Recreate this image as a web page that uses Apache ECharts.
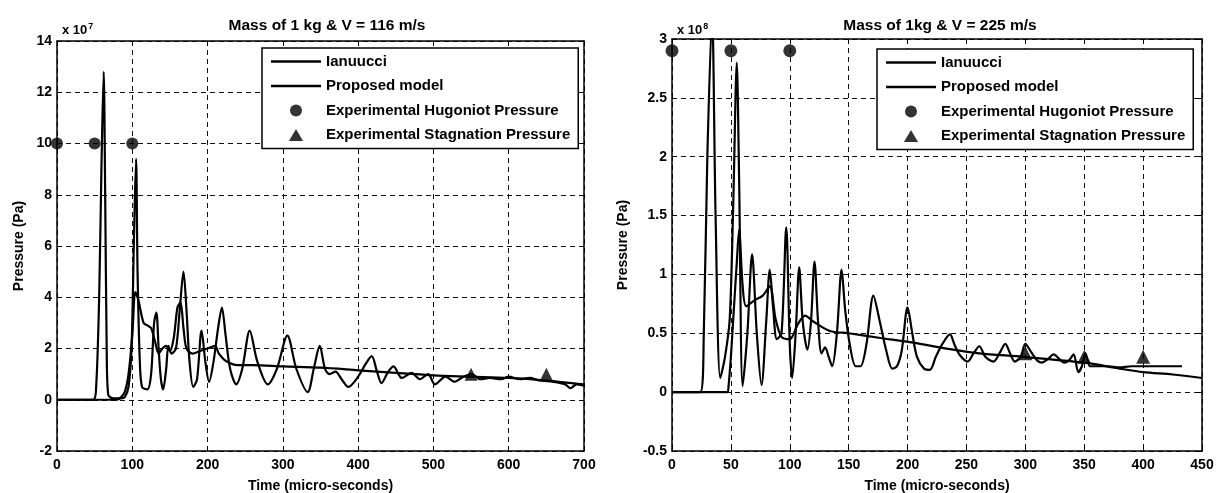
<!DOCTYPE html>
<html>
<head>
<meta charset="utf-8">
<script src="https://cdn.jsdelivr.net/npm/echarts@6/dist/echarts.min.js"></script>
<style>
html,body{margin:0;padding:0;background:#fff;}
#c{width:1222px;height:493px;}
</style>
</head>
<body>
<div id="c"></div>
<script>
// ---------- DATA ----------
const seriesNames = ['Ianuucci', 'Proposed model', 'Experimental Hugoniot Pressure', 'Experimental Stagnation Pressure'];

// Left chart: Mass of 1 kg & V = 116 m/s  (pressure in 1e7 Pa, time in micro-seconds)
const leftTitle = 'Mass of 1 kg & V = 116 m/s';
const leftExponent = '7';
const leftIanuucci = [
  [0,0],[48,0],[52,0.5],[56,4],[59,9],[62,12.8],[64,8],[66,2],[68,0.2],[75,0.05],[85,0.05],
  [90,0.1],[95,0.5],[99,2.0],[102,6],[105,9.4],[107,5],[110,1.5],[113,0.5],[120,0.4],
  [125,1.0],[129,3.0],[132,3.4],[135,2.0],[138,0.8],[141,0.4],[145,1.2],[148,2.1],[152,1.8],
  [158,2.0],[163,3.5],[168,5.0],[172,3.5],[176,1.5],[181,0.5],[186,0.8],[192,2.7],[197,1.5],
  [202,0.7],[208,1.5],[214,2.8],[219,3.6],[224,2.5],[230,1.2],[238,0.6],[246,1.2],[256,2.7],
  [266,1.5],[280,0.6],[292,1.2],[306,2.5],[318,1.2],[333,0.3],[341,1.2],[349,2.1],[356,1.2],
  [362,1.0],[370,1.1],[378,0.8],[387,0.5],[400,0.9],[410,1.4],[418,1.7],[425,1.1],[431,0.65],
  [440,1.1],[447,1.3],[458,0.85],[471,1.05],[482,0.8],[493,1.0],[502,0.6],[516,0.9],[528,0.7],
  [540,0.9],[551,1.0],[562,0.8],[575,0.85],[590,0.8],[600,0.9],[615,0.8],[628,0.85],[640,0.75],
  [660,0.7],[675,0.6],[682,0.45],[690,0.6],[700,0.55]
];
const leftModel = [
  [0,0],[80,0],[85,0.1],[90,0.3],[95,1.0],[100,2.5],[104,4.2],[108,3.9],[115,3.0],[120,2.9],
  [125,2.8],[130,2.3],[135,1.8],[140,2.0],[145,2.1],[150,1.9],[155,2.4],[160,3.6],[164,3.8],
  [168,2.8],[172,2.0],[180,1.8],[190,1.9],[200,2.0],[210,2.1],[215,1.8],[225,1.5],[240,1.35],
  [260,1.35],[300,1.3],[350,1.25],[400,1.15],[450,1.05],[500,0.95],[550,0.9],[600,0.85],
  [650,0.75],[700,0.6]
];
const leftHugoniot = [[0,10],[50,10],[100,10]];
const leftStagnation = [[550,1.0],[650,1.0]];

// Right chart: Mass of 1kg & V = 225 m/s  (pressure in 1e8 Pa)
const rightTitle = 'Mass of 1kg & V = 225 m/s';
const rightExponent = '8';
const rightIanuucci = [
  [0,0],[24,0],[27,0.5],[30,2.0],[34,3.2],[37,1.5],[41,0.12],[45,0.3],[49,0.62],[52,1.6],
  [55,2.8],[57,1.8],[60,0.05],[64,0.5],[68,1.17],[72,0.5],[76,0.06],[80,0.6],[83,1.04],[86,0.7],
  [89,0.45],[93,0.5],[97,1.4],[100,0.4],[102,0.12],[105,0.5],[108,1.06],[111,0.6],[115,0.36],
  [118,0.6],[121,1.11],[124,0.6],[127,0.33],[130,0.38],[133,0.3],[136,0.22],[140,0.5],[144,1.04],
  [147,0.7],[151,0.4],[156,0.22],[160,0.22],[165,0.4],[171,0.82],[176,0.62],[182,0.35],[187,0.2],
  [191,0.22],[195,0.35],[200,0.72],[204,0.5],[208,0.3],[214,0.2],[219,0.19],[224,0.3],[229,0.4],
  [236,0.49],[240,0.4],[244,0.32],[251,0.26],[256,0.33],[261,0.39],[266,0.3],[273,0.26],[278,0.33],
  [283,0.41],[287,0.33],[291,0.26],[296,0.3],[300,0.41],[305,0.34],[310,0.27],[314,0.25],[319,0.28],
  [324,0.32],[329,0.28],[333,0.25],[337,0.27],[341,0.32],[345,0.17],[348,0.22],[351,0.33],[355,0.22],
  [360,0.22],[370,0.22],[380,0.21],[390,0.22],[400,0.22],[410,0.22],[420,0.22],[433,0.22]
];
const rightModel = [
  [0,0],[47,0],[48,0.05],[50,0.3],[52,0.62],[55,1.1],[57,1.38],[60,0.9],[63,0.73],[70,0.78],
  [77,0.82],[83,0.9],[88,0.62],[93,0.47],[100,0.45],[107,0.58],[113,0.65],[120,0.6],[134,0.52],
  [150,0.5],[177,0.46],[205,0.42],[233,0.37],[261,0.33],[298,0.3],[350,0.25],[380,0.2],
  [400,0.17],[425,0.15],[450,0.12]
];
const rightHugoniot = [[0,2.9],[50,2.9],[100,2.9]];
const rightStagnation = [[300,0.33],[350,0.3],[400,0.3]];

// ---------- CHART ----------
const FONT = 'Liberation Sans, Arial, Helvetica, sans-serif';
const chart = echarts.init(document.getElementById('c'), null, {renderer: 'canvas'});

const grids = [
  {left: 57, top: 41, width: 527, height: 410, outerBoundsMode: 'none', containLabel: false},
  {left: 672, top: 39, width: 530, height: 412, outerBoundsMode: 'none', containLabel: false}
];
const xRanges = [{min: 0, max: 700, interval: 100}, {min: 0, max: 450, interval: 50}];
const yRanges = [{min: -2, max: 14, interval: 2}, {min: -0.5, max: 3, interval: 0.5}];

function mainX(i) {
  return Object.assign({
    type: 'value', gridIndex: i, position: 'bottom',
    name: 'Time (micro-seconds)', nameLocation: 'middle', nameGap: 28,
    nameTextStyle: {fontFamily: FONT, fontSize: 14, fontWeight: 'bold', color: '#000'},
    axisLine: {show: true, onZero: false, lineStyle: {color: '#000', width: 1.5}},
    axisTick: {show: true, inside: true, length: 5, lineStyle: {color: '#000'}},
    axisLabel: {fontFamily: FONT, fontSize: 14, fontWeight: 'bold', color: '#000', margin: 7},
    splitLine: {show: true, lineStyle: {color: '#111', type: [5, 4], width: 1}}
  }, xRanges[i]);
}
function topX(i) {
  return Object.assign({
    type: 'value', gridIndex: i, position: 'top',
    axisLine: {show: true, onZero: false, lineStyle: {color: '#000', width: 1.5}},
    axisTick: {show: true, inside: true, length: 5, lineStyle: {color: '#000'}},
    axisLabel: {show: false}, splitLine: {show: false}
  }, xRanges[i]);
}
function mainY(i) {
  return Object.assign({
    type: 'value', gridIndex: i, position: 'left',
    name: 'Pressure (Pa)', nameLocation: 'middle', nameGap: i === 0 ? 31 : 42,
    nameTextStyle: {fontFamily: FONT, fontSize: 14, fontWeight: 'bold', color: '#000'},
    axisLine: {show: true, onZero: false, lineStyle: {color: '#000', width: 1.5}},
    axisTick: {show: true, inside: true, length: 5, lineStyle: {color: '#000'}},
    axisLabel: {fontFamily: FONT, fontSize: 14, fontWeight: 'bold', color: '#000', margin: 5},
    splitLine: {show: true, lineStyle: {color: '#111', type: [5, 4], width: 1}}
  }, yRanges[i]);
}
function rightY(i) {
  return Object.assign({
    type: 'value', gridIndex: i, position: 'right',
    axisLine: {show: true, onZero: false, lineStyle: {color: '#000', width: 1.5}},
    axisTick: {show: true, inside: true, length: 5, lineStyle: {color: '#000'}},
    axisLabel: {show: false}, splitLine: {show: false}
  }, yRanges[i]);
}

function lineSeries(name, data, axisIdx) {
  return {
    name: name, type: 'line', data: data, xAxisIndex: axisIdx, yAxisIndex: axisIdx,
    symbol: 'none', showSymbol: false, smooth: 0.3, clip: true,
    lineStyle: {color: '#000', width: 2.2}, itemStyle: {color: '#000'}, z: 5
  };
}
function scatterSeries(name, data, axisIdx, sym, size) {
  return {
    name: name, type: 'scatter', data: data, xAxisIndex: axisIdx, yAxisIndex: axisIdx,
    symbol: sym, symbolSize: size, clip: false, itemStyle: {color: '#000'}, z: 6
  };
}

const TRI = 'path://M0,11 L6.5,0 L13,11 Z';
function legend(left, top) {
  return {
    left: left, top: top, orient: 'vertical',
    itemWidth: 50, itemHeight: 12, itemGap: 9.5,
    padding: [6, 8, 6, 9],
    borderColor: '#000', borderWidth: 1.5, backgroundColor: '#fff',
    symbolKeepAspect: true,
    textStyle: {fontFamily: FONT, fontSize: 15, color: '#000', fontWeight: 'bold'},
    data: [
      {name: seriesNames[0], icon: 'path://M0,0 L50,0 L50,2.5 L0,2.5 Z'},
      {name: seriesNames[1], icon: 'path://M0,0 L50,0 L50,2.5 L0,2.5 Z'},
      {name: seriesNames[2], icon: 'circle'},
      {name: seriesNames[3], icon: TRI}
    ],
    selectedMode: false
  };
}

const option = {
  animation: false,
  backgroundColor: '#fff',
  title: [
    {text: leftTitle, left: 322, top: 13, textAlign: 'center',
     textStyle: {fontFamily: FONT, fontSize: 15.5, fontWeight: 'bold', color: '#000'}},
    {text: rightTitle, left: 935, top: 13, textAlign: 'center',
     textStyle: {fontFamily: FONT, fontSize: 15.5, fontWeight: 'bold', color: '#000'}},
    {text: '{a|x 10}{b|' + leftExponent + '}', left: 57, top: 17,
     textStyle: {rich: {a: {fontFamily: FONT, fontSize: 13, fontWeight: 'bold', color: '#000'},
                        b: {fontFamily: FONT, fontSize: 9, fontWeight: 'bold', color: '#000', verticalAlign: 'top', padding: [0,0,8,1]}}}},
    {text: '{a|x 10}{b|' + rightExponent + '}', left: 672, top: 17,
     textStyle: {rich: {a: {fontFamily: FONT, fontSize: 13, fontWeight: 'bold', color: '#000'},
                        b: {fontFamily: FONT, fontSize: 9, fontWeight: 'bold', color: '#000', verticalAlign: 'top', padding: [0,0,8,1]}}}}
  ],
  legend: [legend(262, 48), legend(877, 49)],
  grid: grids,
  xAxis: [mainX(0), mainX(1), topX(0), topX(1)],
  yAxis: [mainY(0), mainY(1), rightY(0), rightY(1)],
  series: [
    lineSeries(seriesNames[0], leftIanuucci, 0),
    lineSeries(seriesNames[1], leftModel, 0),
    scatterSeries(seriesNames[2], leftHugoniot, 0, 'circle', 12),
    scatterSeries(seriesNames[3], leftStagnation, 0, 'triangle', 13),
    lineSeries(seriesNames[0], rightIanuucci, 1),
    lineSeries(seriesNames[1], rightModel, 1),
    scatterSeries(seriesNames[2], rightHugoniot, 1, 'circle', 13),
    scatterSeries(seriesNames[3], rightStagnation, 1, 'triangle', 14)
  ]
};
chart.setOption(option);
</script>
</body>
</html>
